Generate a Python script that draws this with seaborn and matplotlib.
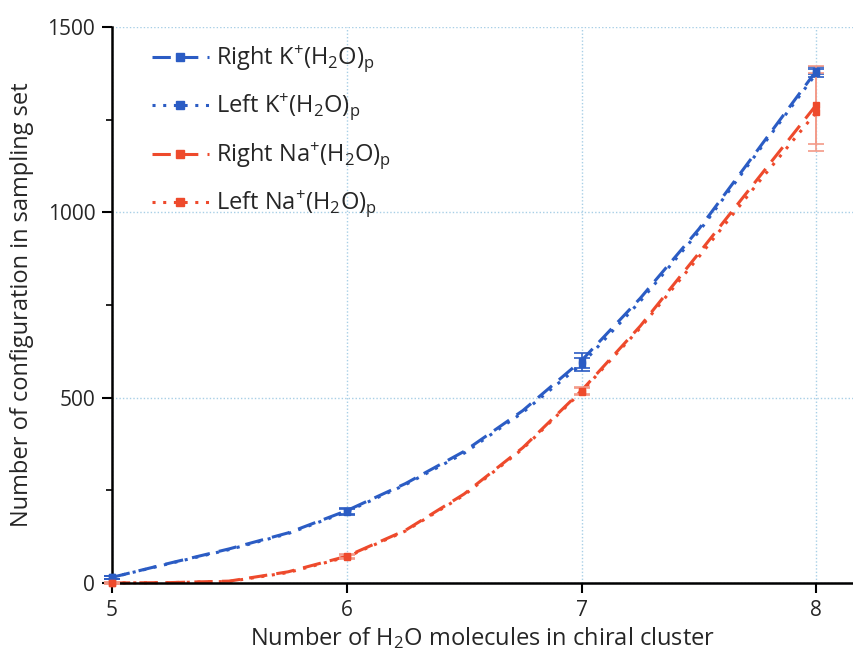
"""Number of configurations in the sampling set vs chiral cluster size."""

import matplotlib
matplotlib.use("Agg")
import matplotlib.pyplot as plt
from matplotlib.lines import Line2D
from matplotlib.ticker import MultipleLocator
import pandas as pd
import seaborn as sns

# Curves.
x_curve = [5, 5.25, 5.5, 5.75, 6, 6.25, 6.5, 6.75, 7, 7.25, 7.5, 7.75, 8]
right_k_curve = [15, 54, 92, 135, 195, 268, 355, 465, 600, 768, 955, 1168, 1382]
left_k_curve = [15, 53, 90, 133, 192, 265, 350, 460, 590, 760, 948, 1162, 1375]
right_na_curve = [0, 1, 5, 30, 72, 142, 240, 365, 519, 693, 890, 1090, 1290]
left_na_curve = [0, 1, 4, 28, 70, 140, 237, 362, 516, 688, 880, 1078, 1270]

# Sampled points with error bars.
x_points = [5, 6, 7, 8]
right_k_pts = [15, 195, 600, 1382]
right_k_err = [4, 8, 20, 10]
left_k_pts = [15, 192, 590, 1375]
left_k_err = [4, 8, 18, 10]
right_na_pts = [0, 72, 519, 1290]
right_na_err = [2, 6, 10, 105]
left_na_pts = [0, 70, 516, 1270]
left_na_err = [2, 6, 10, 105]

labels = [r"Right K$^{+}$(H$_{2}$O)$_{p}$", r"Left K$^{+}$(H$_{2}$O)$_{p}$",
          r"Right Na$^{+}$(H$_{2}$O)$_{p}$", r"Left Na$^{+}$(H$_{2}$O)$_{p}$"]

BLUE = "#2b5cc4"
RED = "#ee4a2c"
colors = [BLUE, BLUE, RED, RED]
dashes = [(6, 3), (1, 2.5), (6, 3), (1, 2.5)]


def main() -> None:
    sns.set_style("white")
    plt.rcParams["font.family"] = ["Open Sans", "DejaVu Sans"]
    plt.rcParams["mathtext.default"] = "regular"

    curves = [right_k_curve, left_k_curve, right_na_curve, left_na_curve]
    df = pd.concat([
        pd.DataFrame({"x": x_curve, "y": c, "series": lab})
        for c, lab in zip(curves, labels)
    ])

    fig = plt.figure(figsize=(8.54, 6.55), dpi=100)
    ax = fig.add_axes([0.131, 0.110, 0.869, 0.849])

    sns.lineplot(data=df, x="x", y="y", hue="series", style="series",
                 palette=dict(zip(labels, colors)),
                 dashes=dict(zip(labels, dashes)),
                 linewidth=2.2, legend=False, ax=ax, clip_on=False)

    pts = [(right_k_pts, right_k_err), (left_k_pts, left_k_err),
           (right_na_pts, right_na_err), (left_na_pts, left_na_err)]
    for (vals, errs), col in zip(pts, colors):
        ecol = "#f39a88" if col == RED else col
        ax.errorbar(x_points, vals, yerr=errs, fmt="s", color=col,
                    ecolor=ecol, elinewidth=1.2, capsize=6, capthick=1.2,
                    markersize=5, clip_on=False, zorder=4)

    ax.set_xlim(5, 8.16)
    ax.set_ylim(0, 1500)
    ax.xaxis.set_major_locator(MultipleLocator(1))
    ax.yaxis.set_major_locator(MultipleLocator(500))
    ax.yaxis.set_minor_locator(MultipleLocator(250))
    ax.grid(True, which="major", color="#a8cfe6", linestyle=(0, (1, 1.5)),
            linewidth=1.0)
    ax.set_axisbelow(True)

    for side in ["top", "right"]:
        ax.spines[side].set_visible(False)
    for side in ["left", "bottom"]:
        ax.spines[side].set_color("black")
        ax.spines[side].set_linewidth(1.8)
    ax.tick_params(axis="both", which="major", direction="out", length=7,
                   width=1.5, labelsize=15, color="black", pad=5)
    ax.tick_params(axis="y", which="minor", direction="out", length=4,
                   width=1.2, left=True, color="black")
    ax.tick_params(axis="x", which="major", bottom=True)
    ax.tick_params(axis="y", which="major", left=True)

    ax.set_xlabel(r"Number of H$_{2}$O molecules in chiral cluster",
                  fontsize=17, labelpad=3)
    ax.set_ylabel("Number of configuration in sampling set", fontsize=17,
                  labelpad=10)

    handles = [Line2D([], [], color=c, linewidth=2.2, dashes=d, marker="s",
                      markersize=6)
               for c, d in zip(colors, dashes)]
    ax.legend(handles, labels, loc="upper left", frameon=False, fontsize=17,
              handlelength=2.4, labelspacing=0.72, handletextpad=0.3,
              bbox_to_anchor=(0.035, 0.995), borderaxespad=0.2)

    fig.savefig("out.png", dpi=100)


if __name__ == "__main__":
    main()
